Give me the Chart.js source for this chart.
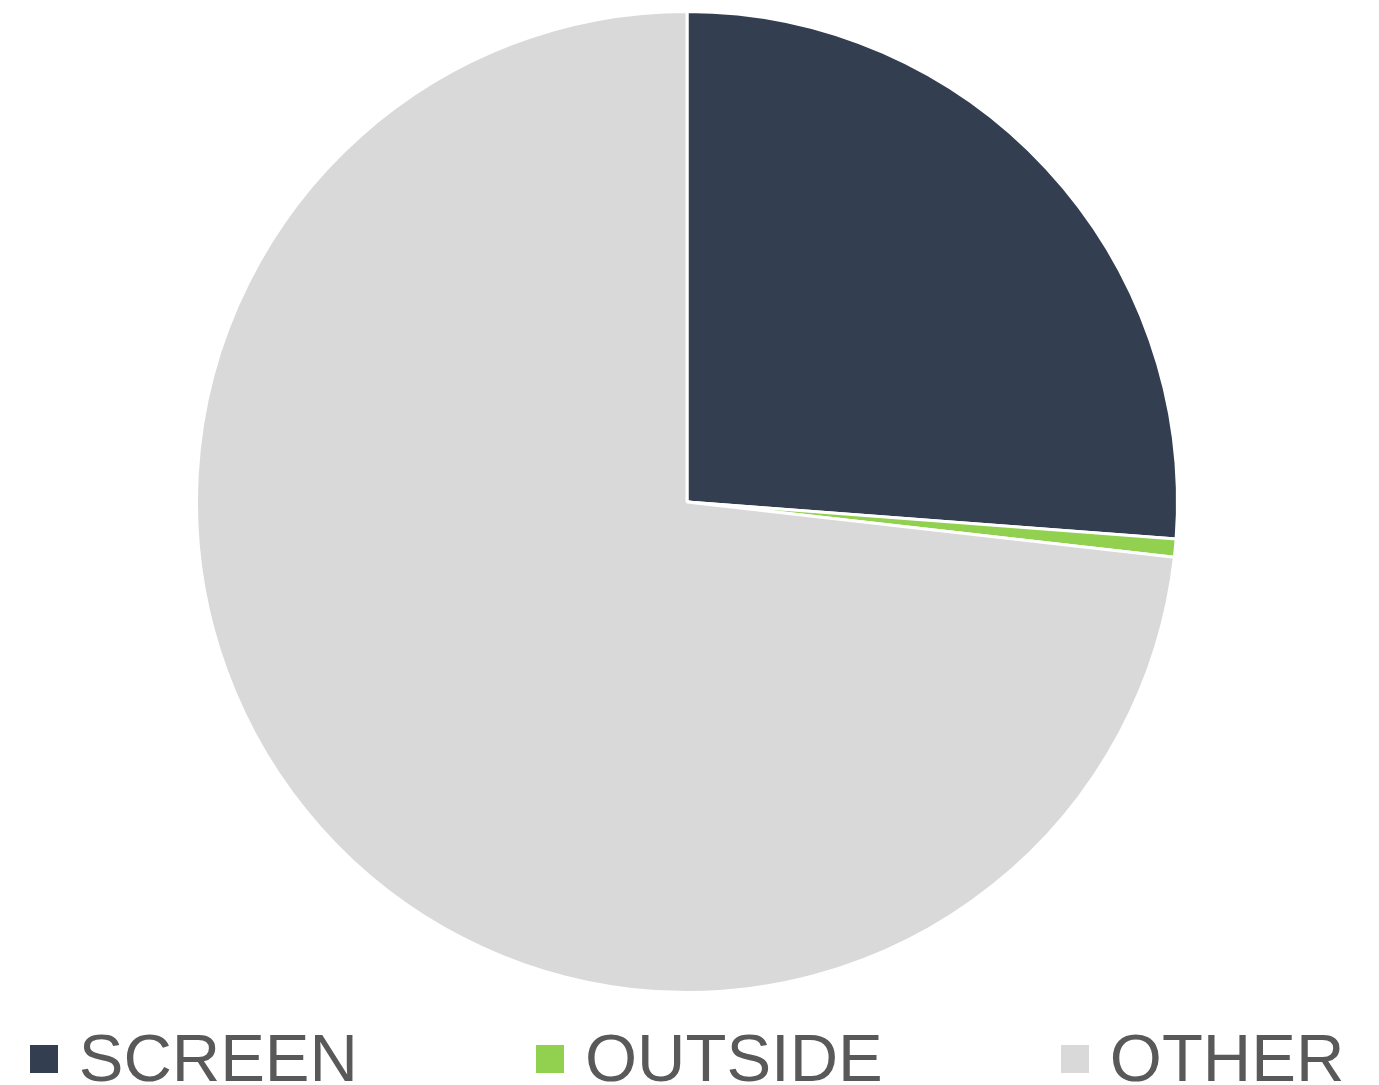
<!DOCTYPE html>
<html>
<head>
<meta charset="utf-8">
<script src="https://cdn.jsdelivr.net/npm/chart.js@4/dist/chart.umd.min.js"></script>
<style>
  html, body { margin: 0; padding: 0; background: #ffffff; }
  #wrap { position: relative; width: 1379px; height: 1085px; overflow: hidden; }
  #chartBox { position: absolute; left: 0; top: 0; width: 1379px; height: 1000px; }
  #legend {
    position: absolute; left: 0; top: 1024px; width: 1374px; height: 67px;
    display: flex; justify-content: center; align-items: flex-start; gap: 178px;
    font-family: "Liberation Sans", Arial, sans-serif; font-size: 67px; line-height: 67px; color: #595959;
  }
  .item { display: flex; align-items: flex-start; white-space: nowrap; }
  .box { width: 28px; height: 28px; margin-top: 21px; margin-right: 21px; }
</style>
</head>
<body>
<div id="wrap">
  <div id="chartBox"><canvas id="c"></canvas></div>
  <div id="legend"></div>
</div>
<script>
const categories = ["SCREEN", "OUTSIDE", "OTHER"];
const values = [26.2, 0.6, 73.2];
const colors = ["#333F50", "#92D050", "#D9D9D9"];

new Chart(document.getElementById('c'), {
  type: 'pie',
  data: {
    labels: categories,
    datasets: [{
      data: values,
      backgroundColor: colors,
      borderColor: '#ffffff',
      borderWidth: 3,
      hoverOffset: 0
    }]
  },
  options: {
    responsive: true,
    maintainAspectRatio: false,
    animation: false,
    layout: { padding: { top: 10, bottom: 6, left: 0, right: 5 } },
    plugins: {
      legend: { display: false },
      tooltip: { enabled: false }
    }
  }
});

const legend = document.getElementById('legend');
categories.forEach((name, i) => {
  const item = document.createElement('div');
  item.className = 'item';
  const box = document.createElement('div');
  box.className = 'box';
  box.style.background = colors[i];
  const txt = document.createElement('span');
  txt.textContent = name;
  item.appendChild(box);
  item.appendChild(txt);
  legend.appendChild(item);
});
</script>
</body>
</html>
